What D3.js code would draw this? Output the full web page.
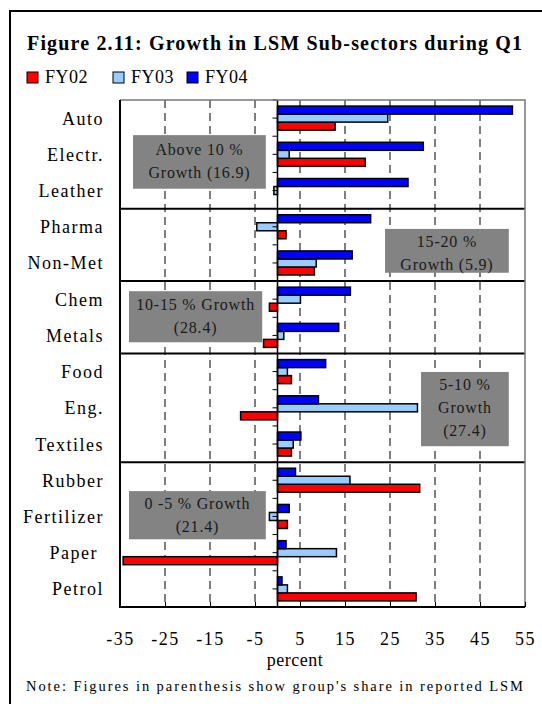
<!DOCTYPE html>
<html>
<head>
<meta charset="utf-8">
<script src="https://cdn.jsdelivr.net/npm/d3@7"></script>
<style>
  html, body { margin: 0; padding: 0; background: #fff; }
  svg { display: block; font-family: "Liberation Serif", "Times New Roman", serif; }
  .cat { white-space: pre; }
</style>
</head>
<body>
<svg id="chart" width="542" height="704"></svg>
<script>
// sub-sector growth, percent
const categories = ["Auto", "Electr.", "Leather", "Pharma", "Non-Met", "Chem", "Metals",
    "Food", "Eng.", "Textiles", "Rubber", "Fertilizer", "Paper ", "Petrol"];
const seriesNames = ["FY02", "FY03", "FY04"];
const fy02 = [12.8, 19.5, 0, 1.9, 8.2, -1.8, -3.1, 3.1, -8.2, 3.1, 31.6, 2.2, -34.3, 30.8];
const fy03 = [24.5, 2.6, -0.8, -4.6, 8.6, 5.1, 1.4, 2.2, 31.1, 3.5, 16.1, -1.8, 13.1, 2.2];
const fy04 = [52.2, 32.4, 29.0, 20.7, 16.6, 16.2, 13.6, 10.7, 9.1, 5.2, 4.0, 2.6, 1.9, 1.0];
const groupEnds = ["Leather", "Non-Met", "Metals", "Textiles"];
const xTicks = [-35, -25, -15, -5, 5, 15, 25, 35, 45, 55];
const groupNotes = [
    ["Above 10 %", "Growth (16.9)"],
    ["15-20 %", "Growth (5.9)"],
    ["10-15 % Growth", "(28.4)"],
    ["5-10 %", "Growth", "(27.4)"],
    ["0 -5 % Growth", "(21.4)"]
];

const colors = { FY02: "#ff0000", FY03: "#99ccff", FY04: "#0000ff" };
const seriesValues = { FY02: fy02, FY03: fy03, FY04: fy04 };

const svg = d3.select("#chart");
const margin = { left: 120, right: 17, top: 100, bottom: 97 };
const W = 542, H = 704;

const x = d3.scaleLinear().domain([-35, 55]).range([margin.left, W - margin.right]);
const y = d3.scaleBand().domain(categories).range([margin.top, H - margin.bottom]);
const sub = d3.scaleBand().domain(["FY04", "FY03", "FY02"]).range([0, y.bandwidth()]).paddingOuter(0.76);
// fractional category position -> pixel
const yPos = v => margin.top + v * y.step();

// outer frame
svg.append("path")
    .attr("d", `M10,${H} V11 H${W}`)
    .attr("fill", "none").attr("stroke", "#000").attr("stroke-width", 2);

// title
svg.append("text")
    .attr("x", 27).attr("y", 50)
    .attr("font-size", 20).attr("font-weight", "bold")
    .attr("textLength", 495).attr("lengthAdjust", "spacing")
    .text("Figure 2.11: Growth in LSM Sub-sectors during Q1");

// legend
const legendX = [27, 113, 187];
const lg = svg.append("g").selectAll("g").data(seriesNames).enter().append("g")
    .attr("transform", (d, i) => `translate(${legendX[i]},72)`);
lg.append("rect").attr("width", 11).attr("height", 11)
    .attr("fill", d => colors[d]).attr("stroke", "#000").attr("stroke-width", 1);
lg.append("text").attr("x", 18).attr("y", 11).attr("font-size", 18)
    .attr("letter-spacing", 0.5).text(d => d);

const plot = svg.append("g");

// dashed gridlines
plot.selectAll("line.grid").data(xTicks.slice(1, -1)).enter().append("line")
    .attr("class", "grid")
    .attr("x1", d => x(d)).attr("x2", d => x(d))
    .attr("y1", margin.top).attr("y2", H - margin.bottom)
    .attr("stroke", "#000").attr("stroke-width", 1).attr("stroke-dasharray", "8,5");

// gray group notes (placed in data units)
const noteBoxes = [
    { x0: -32.1, x1: -2.6, y0: 0.97, y1: 2.45, dy: 5 },
    { x0: 23.9, x1: 51.4, y0: 3.56, y1: 4.77, dy: 8 },
    { x0: -33, x1: -3.4, y0: 5.28, y1: 6.69, dy: 5 },
    { x0: 31.9, x1: 51.4, y0: 7.51, y1: 9.56, dy: 4 },
    { x0: -33, x1: -2.6, y0: 10.8, y1: 12.13, dy: 5 }
];
groupNotes.forEach((lines, i) => {
    const b = noteBoxes[i];
    const g = plot.append("g");
    g.append("rect")
        .attr("x", x(b.x0)).attr("y", yPos(b.y0))
        .attr("width", x(b.x1) - x(b.x0)).attr("height", yPos(b.y1) - yPos(b.y0))
        .attr("fill", "#838383");
    const cx = (x(b.x0) + x(b.x1)) / 2;
    const cy = (yPos(b.y0) + yPos(b.y1)) / 2;
    g.selectAll("text").data(lines).enter().append("text")
        .attr("x", cx)
        .attr("y", (d, j) => cy + (j - (lines.length - 1) / 2) * 23 + b.dy)
        .attr("text-anchor", "middle").attr("font-size", 16).attr("fill", "#1a1a1a")
        .attr("letter-spacing", 0.8)
        .text(d => d);
});

// bars
const barData = [];
categories.forEach((c, i) => {
    seriesNames.forEach(s => barData.push({ cat: c, series: s, value: seriesValues[s][i] }));
});
plot.selectAll("rect.bar").data(barData.filter(d => d.value !== 0)).enter().append("rect")
    .attr("class", "bar")
    .attr("x", d => x(Math.min(0, d.value)))
    .attr("y", d => y(d.cat) + sub(d.series))
    .attr("width", d => Math.abs(x(d.value) - x(0)))
    .attr("height", sub.bandwidth())
    .attr("fill", d => colors[d.series])
    .attr("stroke", "#000").attr("stroke-width", 1.5);

// zero axis with half-category ticks
const halfTicks = d3.range(0, categories.length * 2 + 1).map(k => k / 2);
plot.selectAll("line.ztick").data(halfTicks).enter().append("line")
    .attr("x1", x(0) - 5).attr("x2", x(0))
    .attr("y1", d => yPos(d)).attr("y2", d => yPos(d))
    .attr("stroke", "#000").attr("stroke-width", 1);
plot.append("line")
    .attr("x1", x(0)).attr("x2", x(0))
    .attr("y1", margin.top).attr("y2", H - margin.bottom)
    .attr("stroke", "#000").attr("stroke-width", 1.5);

// group separators
plot.selectAll("line.sep").data(groupEnds).enter().append("line")
    .attr("x1", margin.left).attr("x2", W - margin.right)
    .attr("y1", d => y(d) + y.bandwidth()).attr("y2", d => y(d) + y.bandwidth())
    .attr("stroke", "#000").attr("stroke-width", 2);

// plot border
plot.append("path")
    .attr("d", `M${margin.left},${margin.top} H${W - margin.right} V${H - margin.bottom}`)
    .attr("fill", "none").attr("stroke", "#777").attr("stroke-width", 1.5);
plot.append("path")
    .attr("d", `M${margin.left},${margin.top} V${H - margin.bottom} H${W - margin.right}`)
    .attr("fill", "none").attr("stroke", "#000").attr("stroke-width", 2);

// x axis
const xAxis = svg.append("g")
    .attr("transform", `translate(0,${H - margin.bottom})`)
    .call(d3.axisBottom(x).tickValues(xTicks).tickSize(-5).tickPadding(0).tickFormat(d3.format("d")));
xAxis.select(".domain").remove();
xAxis.selectAll("line").attr("stroke", "#000");
xAxis.selectAll("text")
    .attr("font-family", "Liberation Serif, serif").attr("font-size", 18)
    .attr("letter-spacing", 1.5).attr("fill", "#000")
    .attr("dy", null).attr("y", 38);
xAxis.selectAll("text").text(d => String(d).replace("\u2212", "-"));

svg.append("text")
    .attr("x", 295).attr("y", 666).attr("text-anchor", "middle")
    .attr("font-size", 18).attr("letter-spacing", 0.5).text("percent");

// category labels
svg.append("g").selectAll("text").data(categories).enter().append("text")
    .attr("class", "cat")
    .attr("x", 104).attr("y", d => y(d) + y.bandwidth() / 2 + 6.5)
    .attr("text-anchor", "end").attr("font-size", 18).attr("letter-spacing", 1.5)
    .text(d => d);

// footnote
svg.append("text")
    .attr("x", 26).attr("y", 691)
    .attr("font-size", 14.5)
    .attr("textLength", 497).attr("lengthAdjust", "spacing")
    .text("Note: Figures in parenthesis show group's share in reported LSM");
</script>
</body>
</html>
